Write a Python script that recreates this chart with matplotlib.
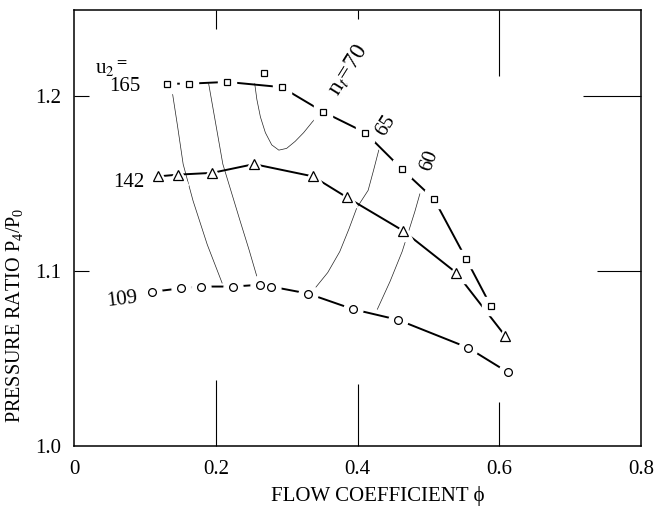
import matplotlib
matplotlib.use("Agg")
import matplotlib.pyplot as plt

# measured points, one series per blade tip speed u2
phi_165 = [0.131, 0.162, 0.216, 0.268, 0.293, 0.351, 0.411, 0.463, 0.508, 0.553, 0.588]
pr_165 = [1.207, 1.207, 1.208, 1.213, 1.205, 1.191, 1.179, 1.158, 1.141, 1.107, 1.080]
curve_165 = [0, 1, 2, 4, 5, 6, 7, 8, 9, 10]  # point 3 lies off the faired curve

phi_142 = [0.119, 0.147, 0.195, 0.254, 0.337, 0.385, 0.464, 0.539, 0.608]
pr_142 = [1.154, 1.155, 1.156, 1.161, 1.154, 1.142, 1.123, 1.099, 1.063]

phi_109 = [0.110, 0.151, 0.179, 0.224, 0.262, 0.278, 0.330, 0.394, 0.457, 0.556, 0.612]
pr_109 = [1.088, 1.090, 1.091, 1.091, 1.092, 1.091, 1.087, 1.078, 1.072, 1.056, 1.042]

# iso-efficiency lines
eta70_phi = [0.255, 0.258, 0.263, 0.270, 0.279, 0.289, 0.300, 0.312, 0.324, 0.336, 0.347]
eta70_pr = [1.207, 1.198, 1.188, 1.179, 1.172, 1.169, 1.170, 1.174, 1.179, 1.185, 1.190]
eta65_left_phi = [0.190, 0.200, 0.210, 0.222, 0.234, 0.247, 0.260]
eta65_left_pr = [1.207, 1.184, 1.161, 1.145, 1.129, 1.112, 1.094]
eta60_left_phi = [0.138, 0.146, 0.154, 0.168, 0.188, 0.209]
eta60_left_pr = [1.204, 1.183, 1.161, 1.140, 1.115, 1.093]
eta65_right_phi = [0.430, 0.423, 0.415, 0.399, 0.388, 0.375, 0.358, 0.340]
eta65_right_pr = [1.169, 1.158, 1.146, 1.136, 1.124, 1.111, 1.099, 1.090]
eta60_right_phi = [0.488, 0.481, 0.474, 0.463, 0.446, 0.437, 0.428]
eta60_right_pr = [1.144, 1.134, 1.125, 1.111, 1.094, 1.086, 1.078]

xticks = [0, 0.2, 0.4, 0.6, 0.8]
xtick_labels = ["0", "0.2", "0.4", "0.6", "0.8"]
yticks = [1.0, 1.1, 1.2]
ytick_labels = ["1.0", "1.1", "1.2"]

plt.rcParams["mathtext.fontset"] = "custom"
plt.rcParams["mathtext.rm"] = "Liberation Serif"
plt.rcParams["mathtext.it"] = "Liberation Serif"

serif = ["Liberation Serif", "DejaVu Serif"]

fig = plt.figure(figsize=(6.57, 5.08), dpi=100)
ax = fig.add_axes([74 / 657, 1 - 445.7 / 508, 567 / 657, 436 / 508])
ax.set_xlim(0, 0.8)
ax.set_ylim(1.0, 1.2493)

for xs, ys in [(eta70_phi, eta70_pr), (eta65_left_phi, eta65_left_pr),
               (eta60_left_phi, eta60_left_pr), (eta65_right_phi, eta65_right_pr),
               (eta60_right_phi, eta60_right_pr)]:
    ax.plot(xs, ys, color="#222222", lw=0.5)

series = [
    ([phi_165[i] for i in curve_165], [pr_165[i] for i in curve_165], phi_165, pr_165, "s", 5.0),
    (phi_142, pr_142, phi_142, pr_142, "^", 7.0),
    (phi_109, pr_109, phi_109, pr_109, "o", 5.6),
]
for lx, ly, px, py, mk, ms in series:
    ax.plot(lx, ly, color="black", lw=1.4, solid_capstyle="butt")
    ax.plot(px, py, ls="none", marker=mk, ms=ms + 8, mfc="white", mec="white", zorder=3)
    ax.plot(px, py, ls="none", marker=mk, ms=ms, mfc="white", mec="black", mew=0.9, zorder=4)

# curve labels
ax.text(0.0296, 1.2155, r"u$_2{}^{=}$", family=serif, math_fontfamily="stix",
        fontsize=15, ha="left", va="center")
ax.text(0.0713, 1.2053, "165", family=serif, fontsize=15, ha="center", va="center")
ax.text(0.0780, 1.1504, "142", family=serif, fontsize=15, ha="center", va="center")
ax.text(0.0684, 1.0838, "109", family=serif, fontsize=15, ha="center", va="center", rotation=7)
ax.text(0.3866, 1.2147, r"n$_t$=70", family=serif, math_fontfamily="stix",
        fontsize=17, ha="center", va="center", rotation=58)
ax.text(0.440, 1.183, "65", family=serif, fontsize=15, ha="center", va="center", rotation=58)
ax.text(0.502, 1.163, "60", family=serif, fontsize=15, ha="center", va="center", rotation=70)

ax.set_xticks(xticks)
ax.set_xticklabels(xtick_labels, family=serif, fontsize=15)
ax.set_yticks(yticks)
ax.set_yticklabels(ytick_labels, family=serif, fontsize=15)
ax.tick_params(direction="in", top=True, right=True, width=0.8, color="black")
ax.tick_params(axis="x", pad=10)
ax.tick_params(axis="y", pad=9)

ax.set_xlabel("FLOW COEFFICIENT \u03d5", family=serif, fontsize=15)
ax.xaxis.set_label_coords(0.536, -0.092)
ax.set_ylabel(r"PRESSURE RATIO P$_4$/P$_0$", family=serif, fontsize=14.5)
ax.yaxis.set_label_coords(-0.086, 0.30)

for sp in ax.spines.values():
    sp.set_linewidth(1.1)

# tick marks are leftover grid stubs of different length
x_bottom_len = [0, 47.5, 45, 32, 0]
x_top_len = [0, 13.7, 6.5, 47.5, 0]
y_left_len = [0, 11, 11]
y_right_len = [0, 32, 42]
for t, lb, lt in zip(ax.xaxis.get_major_ticks(), x_bottom_len, x_top_len):
    t.tick1line.set_markersize(lb)
    t.tick2line.set_markersize(lt)
for t, ll, lr in zip(ax.yaxis.get_major_ticks(), y_left_len, y_right_len):
    t.tick1line.set_markersize(ll)
    t.tick2line.set_markersize(lr)

fig.savefig("out.png", dpi=100)
